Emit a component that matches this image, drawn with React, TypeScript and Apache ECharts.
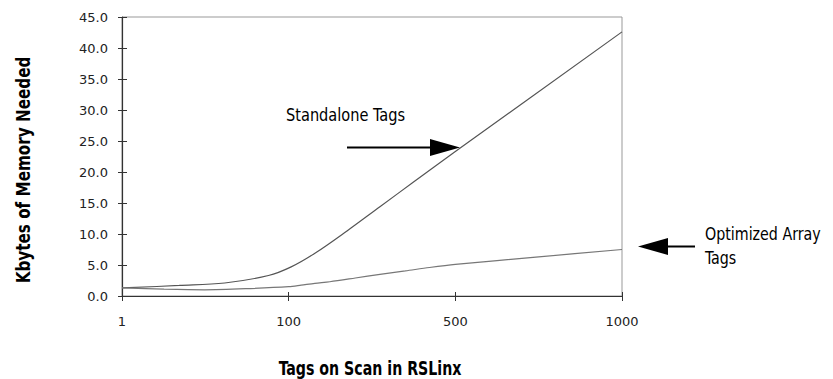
import React, { useEffect, useRef } from "react";
import * as echarts from "echarts";

// X axis tick values (evenly spaced on the chart)
const tickValues = [1, 100, 500, 1000];
const tickLabels = ["1", "100", "500", "1000"];

// Standalone Tags series (tags, Kbytes)
const standaloneTags = [1, 35, 62, 88, 106, 163, 240, 319, 398, 500, 1000];
const standaloneKb = [1.3, 1.7, 2.1, 3.3, 4.7, 6.9, 10.5, 14.4, 18.3, 23.3, 42.6];

// Optimized Array Tags series (tags, Kbytes)
const optimizedTags = [1, 26, 50, 77, 100, 130, 163, 199, 260, 319, 380, 438, 500, 750, 1000];
const optimizedKb = [1.3, 1.1, 1.0, 1.2, 1.5, 1.75, 2.05, 2.3, 2.9, 3.5, 4.05, 4.6, 5.1, 6.3, 7.5];

const yTitle = "Kbytes of Memory Needed";
const xTitle = "Tags on Scan in RSLinx";
const noteStandalone = "Standalone Tags";
const noteOptimized = "Optimized Array\nTags";

// map tag count onto the evenly spaced piecewise axis
function toAxis(t: number): number {
  for (let i = 0; i < tickValues.length - 1; i++) {
    const a = tickValues[i];
    const b = tickValues[i + 1];
    if (t <= b) return i + (t - a) / (b - a);
  }
  return tickValues.length - 1;
}

const condensed = "'DejaVu Sans Condensed', 'DejaVu Sans', sans-serif";

export default function App() {
  const ref = useRef<HTMLDivElement>(null);
  useEffect(() => {
    if (!ref.current) return;
    const chart = echarts.init(ref.current, undefined, { renderer: "svg" });
    const labelStyle = { fontFamily: "'DejaVu Sans', sans-serif", fontSize: 13, color: "#222" };
    chart.setOption({
      animation: false,
      backgroundColor: "#fff",
      grid: {
        left: 122,
        right: 211,
        top: 17,
        bottom: 83,
        show: true,
        borderColor: "#999",
        borderWidth: 1,
      },
      xAxis: [
        {
          type: "value",
          min: 0,
          max: tickValues.length - 1,
          interval: 1,
          axisLine: { show: true, lineStyle: { color: "#333", width: 1.2 } },
          axisTick: { show: true, length: 5, lineStyle: { color: "#333" } },
          splitLine: { show: false },
          axisLabel: { ...labelStyle, margin: 19, formatter: (v: number) => tickLabels[Math.round(v)] ?? "" },
        },
        {
          type: "value",
          position: "bottom",
          min: 0,
          max: tickValues.length - 1,
          interval: 1,
          axisLine: { show: false },
          axisTick: { show: true, inside: true, length: 4, lineStyle: { color: "#333" } },
          splitLine: { show: false },
          axisLabel: { show: false },
        },
      ],
      yAxis: [
        {
          type: "value",
          min: 0,
          max: 45,
          interval: 5,
          axisLine: { show: true, lineStyle: { color: "#333", width: 1.2 } },
          axisTick: { show: true, length: 4, lineStyle: { color: "#333" } },
          splitLine: { show: false },
          axisLabel: { ...labelStyle, margin: 14, formatter: (v: number) => v.toFixed(1) },
        },
        {
          type: "value",
          position: "left",
          min: 0,
          max: 45,
          interval: 5,
          axisLine: { show: false },
          axisTick: { show: true, inside: true, length: 5, lineStyle: { color: "#333" } },
          splitLine: { show: false },
          axisLabel: { show: false },
        },
      ],
      series: [
        {
          name: "Standalone Tags",
          type: "line",
          smooth: 0.35,
          showSymbol: false,
          lineStyle: { color: "#555", width: 1.2 },
          data: standaloneTags.map((t, i) => [toAxis(t), standaloneKb[i]]),
        },
        {
          name: "Optimized Array Tags",
          type: "line",
          smooth: 0.3,
          showSymbol: false,
          lineStyle: { color: "#777", width: 1.2 },
          data: optimizedTags.map((t, i) => [toAxis(t), optimizedKb[i]]),
        },
      ],
      graphic: [
        {
          type: "text",
          x: 23,
          y: 170,
          rotation: Math.PI / 2,
          scaleX: 0.89,
          style: {
            text: yTitle,
            fontFamily: condensed,
            fontWeight: "bold",
            fontSize: 19,
            fill: "#000",
            align: "center",
            verticalAlign: "middle",
          },
        },
        {
          type: "text",
          x: 370,
          y: 368,
          scaleX: 0.83,
          style: {
            text: xTitle,
            fontFamily: condensed,
            fontWeight: "bold",
            fontSize: 19,
            fill: "#000",
            align: "center",
            verticalAlign: "middle",
          },
        },
        {
          type: "text",
          x: 286,
          y: 115,
          scaleX: 0.9,
          style: {
            text: noteStandalone,
            fontFamily: condensed,
            fontSize: 18,
            fill: "#000",
            align: "left",
            verticalAlign: "middle",
          },
        },
        {
          type: "text",
          x: 705,
          y: 246,
          scaleX: 0.88,
          style: {
            text: noteOptimized,
            fontFamily: condensed,
            fontSize: 18,
            lineHeight: 24,
            fill: "#000",
            align: "left",
            verticalAlign: "middle",
          },
        },
        {
          type: "line",
          shape: { x1: 347, y1: 147.5, x2: 432, y2: 147.5 },
          style: { stroke: "#000", lineWidth: 2 },
        },
        {
          type: "polygon",
          shape: { points: [[430, 139], [460, 147.5], [430, 156]] },
          style: { fill: "#000" },
        },
        {
          type: "line",
          shape: { x1: 666, y1: 246.5, x2: 695, y2: 246.5 },
          style: { stroke: "#000", lineWidth: 2 },
        },
        {
          type: "polygon",
          shape: { points: [[668, 238], [638, 246.5], [668, 255]] },
          style: { fill: "#000" },
        },
      ],
    });
    return () => chart.dispose();
  }, []);
  return <div ref={ref} style={{ width: 833, height: 379, position: "absolute", left: 0, top: 0 }} />;
}
